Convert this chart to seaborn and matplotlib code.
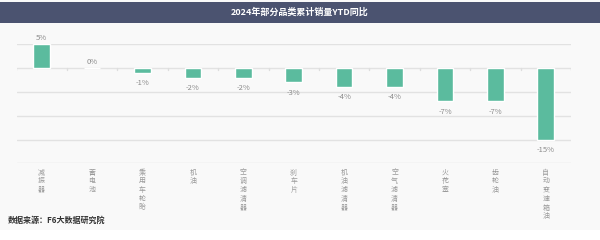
import matplotlib
matplotlib.use('Agg')
import matplotlib.pyplot as plt
import matplotlib.transforms as mtransforms
from matplotlib.patches import Rectangle
import seaborn as sns
import pandas as pd

categories = ['减振器', '蓄电池', '乘用车轮胎', '机油', '空调滤清器', '刹车片',
              '机油滤清器', '空气滤清器', '火花塞', '齿轮油', '自动变速箱油']
values = [5, 0, -1, -2, -2, -3, -4, -4, -7, -7, -15]
value_labels = ['5%', '0%', '-1%', '-2%', '-2%', '-3%', '-4%', '-4%', '-7%', '-7%', '-15%']
grid_values = [5, 0, -5, -10, -15, -20]
title = '2024年部分品类累计销量YTD同比'
source = '数据来源：F6大数据研究院'

sns.set_theme(style='white')
plt.rcParams['font.family'] = ['Noto Sans CJK SC', 'DejaVu Sans']

W, H = 600, 240
fig = plt.figure(figsize=(6, 2.4), dpi=100, facecolor='#f9f9f9')

# bottom white strip
fig.patches.append(Rectangle((0, 0), 1, 1 - 230 / H, transform=fig.transFigure,
                             facecolor='white', edgecolor='none', zorder=0))
# title banner
fig.patches.append(Rectangle((0, 1 - 23 / H), 1, 21 / H, transform=fig.transFigure,
                             facecolor='#4b5370', edgecolor='none', zorder=0))
fig.text(0.5, 1 - 12.5 / H, title, ha='center', va='center', fontsize=6.5,
         fontweight='bold', color='white')

ax_left, ax_right = 16.5, 571
ax_top, ax_bot = 44.3, 163.3
ax = fig.add_axes([ax_left / W, 1 - ax_bot / H, (ax_right - ax_left) / W, (ax_bot - ax_top) / H])
ax.set_facecolor('none')

df = pd.DataFrame({'cat': categories, 'val': values})
sns.barplot(data=df, x='cat', y='val', color='#5bbb9e', width=0.33, saturation=1,
            ax=ax, zorder=3)

n = len(categories)
ax.set_xlim(-0.5, n - 0.5)
ax.set_ylim(min(grid_values), max(grid_values))
for g in grid_values:
    ax.axhline(g, color='#e2e2e2', lw=1, zorder=1)
for i in range(n + 1):
    ax.plot([i - 0.5, i - 0.5], [0, -0.5], color='#dedede', lw=1, zorder=1)

ax.set_xticks([])
ax.set_yticks([])
ax.set_xlabel('')
ax.set_ylabel('')
for s in ax.spines.values():
    s.set_visible(False)

for i, (v, lab) in enumerate(zip(values, value_labels)):
    if v >= 0:
        ax.annotate(lab, (i, v), xytext=(0, 1.5), textcoords='offset points',
                    ha='center', va='bottom', fontsize=5.5, color='#8c8c8c', zorder=4)
    else:
        ax.annotate(lab, (i, v), xytext=(0, -4.5), textcoords='offset points',
                    ha='center', va='top', fontsize=5.5, color='#8c8c8c', zorder=4)

trans = mtransforms.blended_transform_factory(ax.transData, ax.transAxes)
for i, cat in enumerate(categories):
    ax.text(i, -0.045, '\n'.join(cat), transform=trans, ha='center', va='top',
            fontsize=5, linespacing=1.12, color='#9a9a9a')

fig.text(8 / W, 1 - 220.7 / H, source, ha='left', va='center', fontsize=5.8,
         fontweight='bold', color='#333333')

fig.savefig('out.png', dpi=100, facecolor=fig.get_facecolor())
